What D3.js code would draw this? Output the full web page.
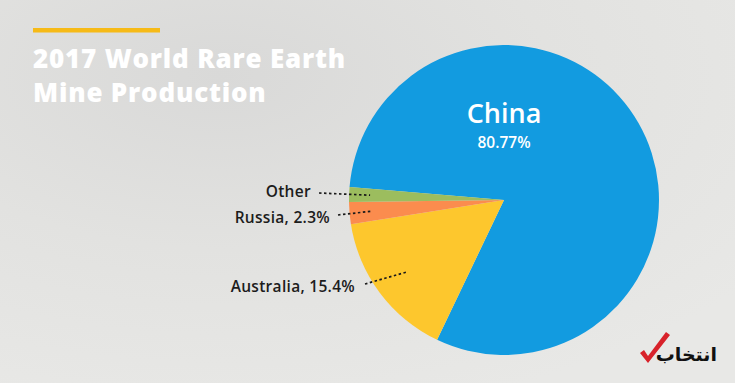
<!DOCTYPE html>
<html>
<head>
<meta charset="utf-8">
<script src="https://cdnjs.cloudflare.com/ajax/libs/d3/7.8.5/d3.min.js"></script>
<style>
  html, body { margin: 0; padding: 0; background: #e3e3e1; }
  svg { display: block; }
  text { font-variant-ligatures: none; }
</style>
</head>
<body>
<div id="chart"></div>
<script>
// 数据
var countries = ["China", "Australia", "Russia", "Other"];
var shares = [80.77, 15.4, 2.3, 1.53];
var labels = ["China", "Australia, 15.4%", "Russia, 2.3%", "Other"];
var colors = ["#129be0", "#fdc72d", "#fb8c4e", "#9cbd5e"];

var width = 735, height = 383;

var svg = d3.select("#chart").append("svg")
    .attr("width", width)
    .attr("height", height);

// 背景
var defs = svg.append("defs");
var grad = defs.append("radialGradient").attr("id", "bg")
    .attr("cx", "0.3").attr("cy", "0.2").attr("r", "0.9");
grad.append("stop").attr("offset", "0").attr("stop-color", "#d9d9d8");
grad.append("stop").attr("offset", "0.5").attr("stop-color", "#e2e2e0");
grad.append("stop").attr("offset", "1").attr("stop-color", "#e8e8e6");
svg.append("rect").attr("width", width).attr("height", height).attr("fill", "url(#bg)");

// 标题
svg.append("rect")
    .attr("x", 33).attr("y", 28)
    .attr("width", 127).attr("height", 4.5)
    .attr("fill", "#f6ba17");

var title = svg.append("text")
    .attr("x", 33)
    .attr("font-family", "'Open Sans', sans-serif")
    .attr("font-weight", 800)
    .attr("font-size", 26)
    .attr("letter-spacing", 0.8)
    .attr("fill", "#ffffff");
title.append("tspan").attr("x", 33).attr("y", 68).text("2017 World Rare Earth");
title.append("tspan").attr("x", 33).attr("y", 102).text("Mine Production");

// 饼图
var cx = 504, cy = 200, r = 155;
var start = -85.2 * Math.PI / 180;

var pie = d3.pie()
    .sort(null)
    .startAngle(start)
    .endAngle(start + 2 * Math.PI)
    .value(function(d) { return d; });

var arcs = pie(shares);
var arc = d3.arc().innerRadius(0).outerRadius(r);

var g = svg.append("g").attr("transform", "translate(" + cx + "," + cy + ")");

g.selectAll("path")
    .data(arcs)
    .enter().append("path")
    .attr("d", arc)
    .attr("fill", function(d, i) { return colors[i]; });

// 中国标签
g.append("text")
    .attr("x", 0).attr("y", -77)
    .attr("text-anchor", "middle")
    .attr("font-family", "'Open Sans', sans-serif")
    .attr("font-weight", 600)
    .attr("font-size", 27)
    .attr("fill", "#ffffff")
    .text(labels[0]);
g.append("text")
    .attr("x", 0).attr("y", -52)
    .attr("text-anchor", "middle")
    .attr("font-family", "'Open Sans', sans-serif")
    .attr("font-weight", 600)
    .attr("font-size", 15.5)
    .attr("fill", "#ffffff")
    .text(shares[0] + "%");

// 左侧标签和虚线
var leaders = [
    { i: 3, rad: 134, lx: -185, ly: -7, tx: -193, ty: -3 },
    { i: 2, rad: 134, lx: -166, ly: 15, tx: -174, ty: 23 },
    { i: 1, rad: 120, lx: -139, ly: 84, tx: -149, ty: 92 }
];
var lineEnd = function(d, rad) {
    var a = (d.startAngle + d.endAngle) / 2;
    return [rad * Math.sin(a), -rad * Math.cos(a)];
};

leaders.forEach(function(l) {
    var p = lineEnd(arcs[l.i], l.rad);
    g.append("line")
        .attr("x1", l.lx).attr("y1", l.ly)
        .attr("x2", p[0]).attr("y2", p[1])
        .attr("stroke", "#1a1a1a")
        .attr("stroke-width", 1.7)
        .attr("stroke-dasharray", "2.5,2.5");
    g.append("text")
        .attr("x", l.tx).attr("y", l.ty)
        .attr("text-anchor", "end")
        .attr("font-family", "'Open Sans', sans-serif")
        .attr("font-weight", 600)
        .attr("font-size", 15.5)
        .attr("letter-spacing", 0.3)
        .attr("fill", "#1c1c1c")
        .text(labels[l.i]);
});

// 水印
svg.append("path")
    .attr("transform", "translate(639,338)")
    .attr("d", "M1,15 L9,25 L31,-3 L27,-6 L9,18 L5,12 Z")
    .attr("fill", "#d8222a");
svg.append("text")
    .attr("x", 717).attr("y", 361)
    .attr("text-anchor", "end")
    .attr("font-family", "'Noto Sans', 'DejaVu Sans', sans-serif")
    .attr("font-weight", 700)
    .attr("font-size", 19)
    .attr("fill", "#111111")
    .text("انتخاب");
</script>
</body>
</html>
